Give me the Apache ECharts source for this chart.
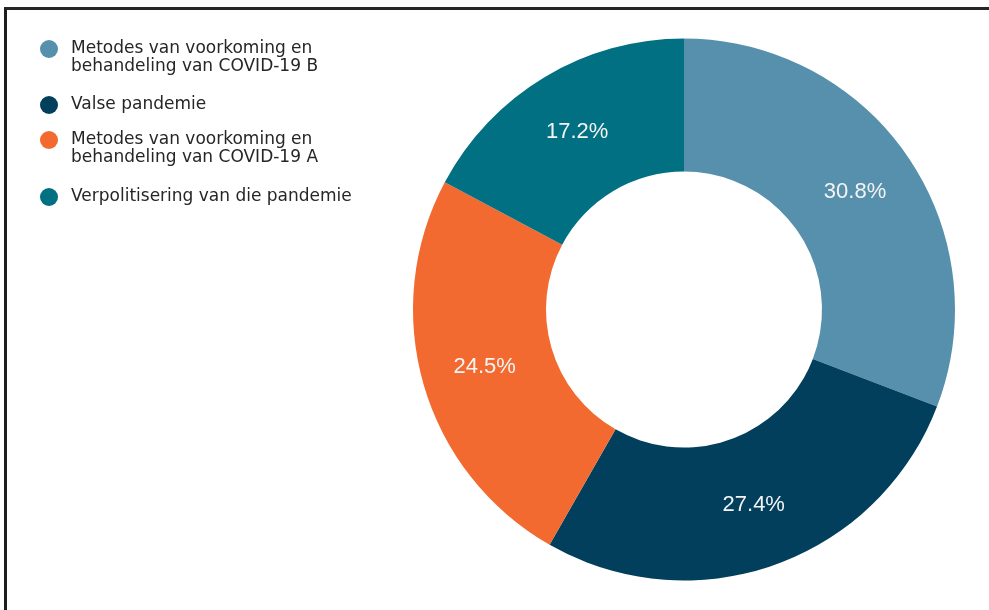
<!DOCTYPE html>
<html>
<head>
<meta charset="utf-8">
<script src="https://cdn.jsdelivr.net/npm/echarts@6/dist/echarts.min.js"></script>
<style>
  html, body { margin: 0; padding: 0; background: #ffffff; width: 989px; height: 610px; overflow: hidden; }
  #frame { position: absolute; left: 4px; top: 7px; width: 1100px; height: 800px;
           border-left: 3px solid #1e1e1e; border-top: 3px solid #262626; box-sizing: border-box; }
  #chart { position: absolute; left: 0; top: 0; width: 989px; height: 610px; z-index: 2; }
</style>
</head>
<body>
<div id="frame"></div>
<div id="chart"></div>
<script>
const categories = [
  'Metodes van voorkoming en\nbehandeling van COVID-19 B',
  'Valse pandemie',
  'Metodes van voorkoming en\nbehandeling van COVID-19 A',
  'Verpolitisering van die pandemie'
];
const values = [30.8, 27.4, 24.5, 17.2];
const colors = ['#5790ad', '#023f5c', '#f26a30', '#017082'];

const legendTops = [22, 96, 113, 188];

const chart = echarts.init(document.getElementById('chart'), null, { renderer: 'canvas' });

const legendText = {
  fontFamily: 'DejaVu Sans',
  fontSize: 17,
  color: '#262626',
  lineHeight: 18,
  padding: [0, 0, 0, 8]
};

const legends = categories.map((name, i) => ({
  orient: 'vertical',
  left: 40,
  top: legendTops[i],
  padding: 0,
  icon: 'circle',
  itemWidth: 18,
  itemHeight: 18,
  itemGap: 0,
  selectedMode: false,
  data: [name],
  formatter: n => {
    const lines = n.split('\n');
    const body = lines.map(l => '{t|' + l + '}').join('\n');
    return lines.length > 1 ? '{e| }\n' + body : body;
  },
  textStyle: {
    fontFamily: 'DejaVu Sans',
    fontSize: 17,
    color: '#262626',
    lineHeight: 18,
    rich: {
      t: legendText,
      e: { fontSize: 17, lineHeight: 18 }
    }
  }
}));

chart.setOption({
  animation: false,
  backgroundColor: 'transparent',
  color: colors,
  legend: legends,
  series: [{
    type: 'pie',
    center: [684, 309.5],
    radius: [138, 271],
    startAngle: 90,
    clockwise: true,
    avoidLabelOverlap: false,
    label: {
      show: true,
      position: 'inside',
      formatter: p => p.value.toFixed(1) + '%',
      color: '#f4f4f4',
      fontFamily: 'Liberation Sans',
      fontSize: 22
    },
    labelLine: { show: false },
    itemStyle: { borderWidth: 0 },
    emphasis: { disabled: true },
    data: categories.map((n, i) => ({ name: n, value: values[i] }))
  }]
});
</script>
</body>
</html>
